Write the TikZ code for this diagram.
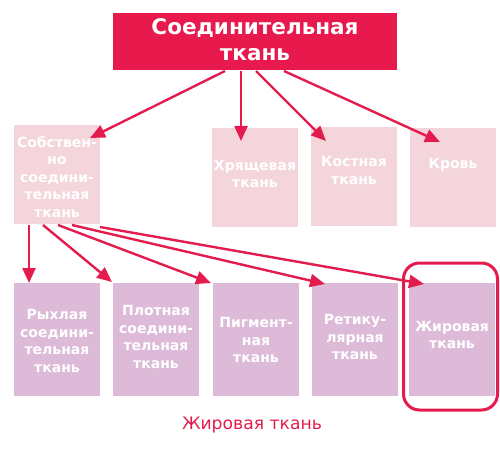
\documentclass[tikz,border=0pt]{standalone}
\usepackage{fontspec}
\setmainfont{DejaVu Sans}
\usetikzlibrary{arrows.meta}
\definecolor{topred}{HTML}{E8194D}
\definecolor{arrred}{HTML}{E41C4E}
\definecolor{pinkbox}{HTML}{F3D5DB}
\definecolor{lilacbox}{HTML}{DCBAD8}
\tikzset{
  x=1pt, y=-1pt,
  topbox/.style={fill=topred, draw=none, minimum width=284pt, minimum height=57pt, inner sep=0pt},
  pbox/.style={fill=pinkbox, draw=none, minimum width=86pt, minimum height=99pt, inner sep=0pt},
  lbox/.style={fill=lilacbox, draw=none, minimum width=86pt, minimum height=113pt, inner sep=0pt},
  lbl/.style={text=white, font=\bfseries\fontsize{14}{17.5}\selectfont, align=center, inner sep=0pt},
  toplbl/.style={text=white, font=\bfseries\fontsize{21.5}{26}\selectfont, align=center, inner sep=0pt},
  arr/.style={draw=arrred, line width=2.4pt, -{Triangle[length=15pt,width=13pt]}},
}
\begin{document}
\begin{tikzpicture}
\useasboundingbox (0,0) rectangle (500,454);
% top
\node[topbox] (top) at (255,41.5) {};
\node[toplbl] (toptext) at (255,40) {Соединительная\\ткань};
% second row
\node[pbox] (sob) at (57,175) {};
\node[pbox] (hr) at (255,177.5) {};
\node[pbox] (ko) at (354,176.5) {};
\node[pbox] (kr) at (453,177.5) {};
\node[lbl] (sobt) at (57,177) {Собствен-\\но\\соедини-\\тельная\\ткань};
\node[lbl] (hrt) at (255,174) {Хрящевая\\ткань};
\node[lbl] (kot) at (354,170.5) {Костная\\ткань};
\node[lbl] (krt) at (453,165) {Кровь};
% third row
\node[lbox] (r1) at (57,339.5) {};
\node[lbox] (r2) at (156,339.5) {};
\node[lbox] (r3) at (256,339.5) {};
\node[lbox] (r4) at (355,339.5) {};
\node[lbox] (r5) at (452,339.5) {};
\node[lbl] (r1t) at (57,341) {Рыхлая\\соедини-\\тельная\\ткань};
\node[lbl] (r2t) at (156,337) {Плотная\\соедини-\\тельная\\ткань};
\node[lbl] (r3t) at (256,340) {Пигмент-\\ная\\ткань};
\node[lbl] (r4t) at (355,337) {Ретику-\\лярная\\ткань};
\node[lbl] (r5t) at (452,335) {Жировая\\ткань};
% highlight
\node[draw=arrred, line width=3pt, rounded corners=16pt, minimum width=94pt, minimum height=147pt, inner sep=0pt] (hl) at (450.5,336.5) {};
% caption
\node[text=arrred, font=\fontsize{17.2}{19}\selectfont, inner sep=0pt] (cap) at (252,425) {Жировая ткань};
% arrows from top
\coordinate (a1) at (225,71);
\coordinate (a2) at (241,71);
\coordinate (a3) at (256,71);
\coordinate (a4) at (284,71);
\coordinate (e1) at (90,138);
\coordinate (e2) at (241,141);
\coordinate (e3) at (326,141);
\coordinate (e4) at (440,142);
\draw[arr] (a1) -- (e1);
\draw[arr] (a2) -- (e2);
\draw[arr] (a3) -- (e3);
\draw[arr] (a4) -- (e4);
% arrows from sob
\coordinate (s1) at (29,225);
\coordinate (s2) at (43,225);
\coordinate (s3) at (58,225);
\coordinate (s4) at (72,225);
\coordinate (s5) at (100,227);
\coordinate (f1) at (29,283);
\coordinate (f2) at (112,282);
\coordinate (f3) at (211,283);
\coordinate (f4) at (325,284);
\coordinate (f5) at (424,284);
\draw[arr] (s1) -- (f1);
\draw[arr] (s2) -- (f2);
\draw[arr] (s3) -- (f3);
\draw[arr] (s4) -- (f4);
\draw[arr] (s5) -- (f5);
\end{tikzpicture}
\end{document}
